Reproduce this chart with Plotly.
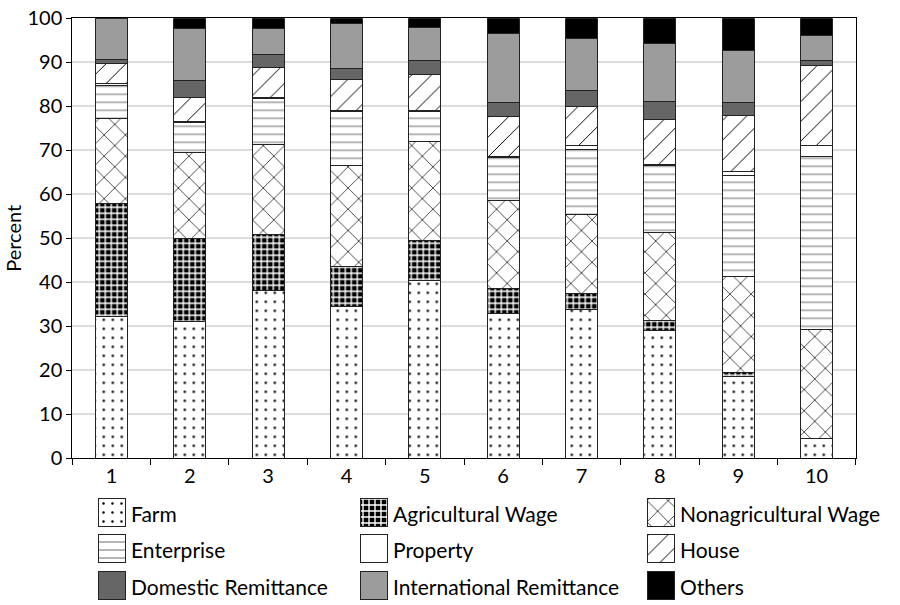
import plotly.graph_objects as go

categories = ["1", "2", "3", "4", "5", "6", "7", "8", "9", "10"]
farm = [32.2, 31.1, 38.1, 34.6, 40.4, 33.0, 33.8, 29.0, 18.5, 4.4]
agri_wage = [25.8, 18.8, 12.7, 8.9, 9.1, 5.7, 3.7, 2.3, 0.9, 0.1]
nonagri_wage = [19.3, 19.6, 20.6, 23.0, 22.5, 20.0, 17.8, 20.0, 21.9, 24.7]
enterprise = [7.5, 6.9, 10.3, 12.3, 6.8, 9.7, 14.9, 15.2, 22.9, 39.5]
property_ = [0.3, 0.2, 0.3, 0.2, 0.2, 0.3, 0.8, 0.3, 1.0, 2.4]
house = [4.7, 5.4, 6.9, 7.1, 8.2, 9.0, 8.9, 10.2, 12.6, 18.1]
domestic = [0.9, 3.9, 2.9, 2.5, 3.1, 3.1, 3.8, 4.1, 3.1, 1.3]
international = [9.3, 11.8, 5.9, 10.3, 7.7, 15.8, 11.8, 13.2, 11.8, 5.6]
others = [0.2, 2.3, 2.3, 1.1, 2.0, 3.4, 4.5, 5.7, 7.3, 3.9]
series_names = ["Farm", "Agricultural Wage", "Nonagricultural Wage",
                "Enterprise", "Property", "House",
                "Domestic Remittance", "International Remittance", "Others"]
series_values = [farm, agri_wage, nonagri_wage, enterprise, property_, house,
                 domestic, international, others]

# ---- styling / layout (not data) ----
W, H = 900, 605
FONT = "Lato"
EDGE = "#222222"
styles = {
    "Farm": dict(color="white", pattern=dict(shape=".", fgcolor="black", bgcolor="white", size=9, solidity=0.06)),
    "Agricultural Wage": dict(color="black", pattern=dict(shape="+", fgcolor="white", bgcolor="black", size=6, solidity=0.4)),
    "Nonagricultural Wage": dict(color="white", pattern=dict(shape="x", fgcolor="black", bgcolor="white", size=15, solidity=0.09)),
    "Enterprise": dict(color="white", pattern=dict(shape="-", fgcolor="#666666", bgcolor="white", size=8, solidity=0.12)),
    "Property": dict(color="white"),
    "House": dict(color="white", pattern=dict(shape="/", fgcolor="black", bgcolor="white", size=14, solidity=0.07)),
    "Domestic Remittance": dict(color="#666666"),
    "International Remittance": dict(color="#9c9c9c"),
    "Others": dict(color="black"),
}
# plot area in pixels
PL, PR, PT, PB = 72.3, 855.7, 18.3, 458.3
# legend grid (pixels)
LEG_COL_LEFT = [98, 360, 647]
LEG_ROW_TOP = [498, 534.5, 571]
SW, SH = 27, 28
LEG_TOP = 490

fig = go.Figure()
for name, vals in zip(series_names, series_values):
    marker = dict(styles[name])
    marker["line"] = dict(color=EDGE, width=1)
    fig.add_trace(go.Bar(name=name, x=categories, y=vals, marker=marker,
                         showlegend=False, xaxis="x", yaxis="y"))

# custom legend, 3 columns, row-wise order
annotations = []
for i, name in enumerate(series_names):
    r, c = divmod(i, 3)
    left = LEG_COL_LEFT[c]
    top = LEG_ROW_TOP[r]
    marker = dict(styles[name])
    marker["line"] = dict(color=EDGE, width=1)
    fig.add_trace(go.Bar(x=[left + SW / 2], y=[SH], base=[top], width=[SW],
                         marker=marker, showlegend=False, hoverinfo="skip",
                         xaxis="x2", yaxis="y2"))
    annotations.append(dict(x=left + SW + 4, y=top + SH / 2 + 1, xref="x2", yref="y2",
                            text=name, showarrow=False, xanchor="left", yanchor="middle",
                            font=dict(family=FONT, size=21, color="black")))

fig.update_layout(
    template="none",
    barmode="stack",
    bargap=0.595,
    width=W, height=H,
    margin=dict(l=0, r=0, t=0, b=0, pad=0, autoexpand=False),
    plot_bgcolor="white", paper_bgcolor="white",
    font=dict(family=FONT, size=20, color="black"),
    showlegend=False,
    annotations=annotations,
    xaxis=dict(domain=[PL / W, PR / W], anchor="y", type="category", automargin=False,
               showline=True, linecolor="black", linewidth=1, mirror=True,
               showgrid=False, zeroline=False, ticklabeloverflow="allow",
               ticks="outside", tickson="boundaries", ticklen=6, tickcolor="black",
               tickfont=dict(size=20)),
    yaxis=dict(domain=[1 - PB / H, 1 - PT / H], anchor="x", range=[0, 100], dtick=10,
               automargin=False, zeroline=False, ticklabeloverflow="allow",
               showline=True, linecolor="black", linewidth=1, mirror=True,
               ticks="outside", ticklen=5, tickcolor="black",
               showgrid=True, gridcolor="#dcdcdc", gridwidth=1.5,
               tickfont=dict(size=20),
               title=dict(text="Percent", font=dict(size=20), standoff=0)),
    xaxis2=dict(domain=[0, 1], anchor="y2", range=[0, W], visible=False,
                fixedrange=True, automargin=False),
    yaxis2=dict(domain=[0, 1 - LEG_TOP / H], anchor="x2", range=[H, LEG_TOP],
                visible=False, fixedrange=True, automargin=False),
)

fig.write_html("out.html", config={"displayModeBar": False},
               post_script="document.body.style.margin='0';document.body.style.overflow='hidden';")
